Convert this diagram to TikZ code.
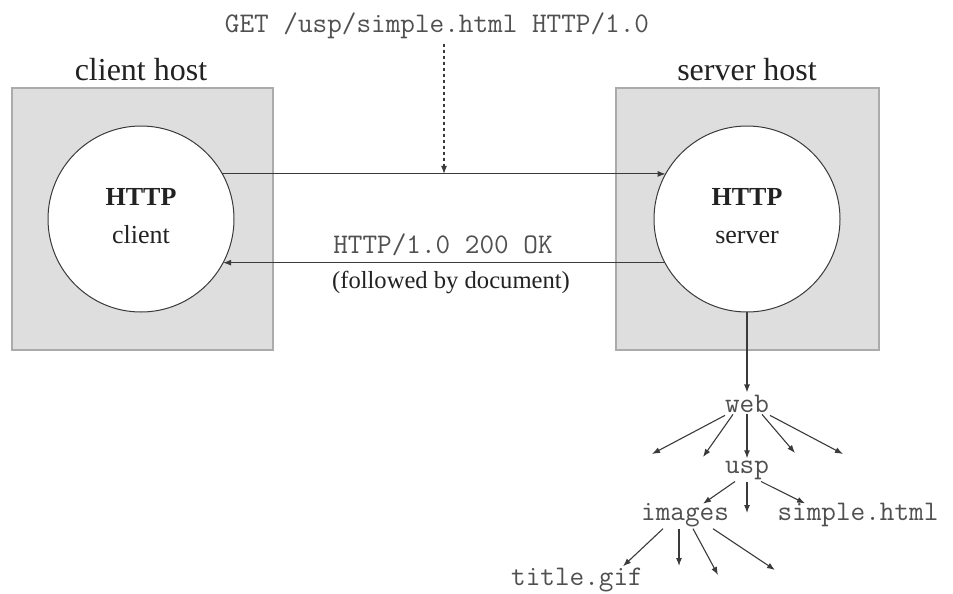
\documentclass[tikz,border=0pt]{standalone}
\usepackage{fontspec}
\setmainfont{Liberation Serif}
\usetikzlibrary{arrows.meta}
\definecolor{boxfill}{HTML}{DEDEDE}
\definecolor{boxline}{HTML}{ABABAB}
\definecolor{lineclr}{HTML}{3A3A3A}
\definecolor{monotxt}{HTML}{505050}
\definecolor{serftxt}{HTML}{222222}
\begin{document}
\begin{tikzpicture}[x=1pt,y=-1pt,
  hostbox/.style={draw=boxline,fill=boxfill,line width=1.2pt,inner sep=0,outer sep=0},
  proc/.style={circle,draw=lineclr,fill=white,line width=1pt,minimum size=186pt,inner sep=0,outer sep=0},
  hostlbl/.style={anchor=base,font=\fontsize{32}{36}\selectfont,text=serftxt,inner sep=0},
  proclbl/.style={anchor=base,font=\fontsize{26}{30}\selectfont,text=serftxt,inner sep=0},
  msg/.style={anchor=base,font=\ttfamily\fontsize{28.4}{32}\selectfont,text=monotxt,inner sep=0},
  note/.style={anchor=base,font=\fontsize{24.6}{28}\selectfont,text=serftxt,inner sep=0},
  file/.style={anchor=base,font=\ttfamily\fontsize{28.4}{32}\selectfont,text=monotxt,inner sep=2pt},
  arr/.style={draw=lineclr,line width=1.1pt,-{Latex[length=8pt,width=6pt]}},
  darr/.style={arr,dash pattern=on 3pt off 3pt}
]
\useasboundingbox (0,0) rectangle (953,594);
% host boxes
\node[hostbox,minimum width=261pt,minimum height=262pt] (cbox) at (142.5,219) {};
\node[hostbox,minimum width=263pt,minimum height=262pt] (sbox) at (747.5,219) {};
\node[hostlbl] (clbl) at (141,81) {client host};
\node[hostlbl] (slbl) at (747,81) {server host};
% processes
\node[proc] (cc) at (141,219) {};
\node[proc] (sc) at (747,219) {};
\node[proclbl] (ct1) at (141,205) {\textbf{HTTP}};
\node[proclbl] (ct2) at (141,243) {client};
\node[proclbl] (st1) at (747,205) {\textbf{HTTP}};
\node[proclbl] (st2) at (747,243) {server};
% request
\node[msg] (get) at (437,33) {GET /usp/simple.html HTTP/1.0};
\draw[arr] (cc.29) -- coordinate (mid) (sc.151);
\draw[darr] ([yshift=-4pt]get.south -| mid) -- (mid);
% response
\node[msg] (resp) at (443,253) {HTTP/1.0 200 OK};
\node[note] (fol) at (451,288) {(followed by document)};
\draw[arr] (sc.208.2) -- (cc.-28.2);
% file tree
\node[file] (web) at (747,412) {web};
\node[file] (usp) at (747,473) {usp};
\node[file] (images) at (685,520) {images};
\node[file] (simple) at (858,520) {simple.html};
\node[file] (title) at (577,585) {title.gif};
\draw[arr] (sc.south) -- (web.north);
\coordinate (w1) at (652,454);
\coordinate (w2) at (703,457);
\coordinate (w4) at (795,453);
\coordinate (w5) at (843,454);
\draw[arr] ([xshift=-22pt,yshift=-1pt]web.south) -- (w1);
\draw[arr] ([xshift=-14pt]web.south) -- (w2);
\draw[arr] (web.south) -- (usp.north);
\draw[arr] ([xshift=15pt]web.south) -- (w4);
\draw[arr] ([xshift=23pt,yshift=-1pt]web.south) -- (w5);
\coordinate (u3) at (747,513);
\draw[arr] ([xshift=-12pt]usp.south) -- ([xshift=18pt,yshift=-3pt]images.north);
\draw[arr] ([xshift=0pt]usp.south) -- (u3);
\draw[arr] ([xshift=14pt]usp.south) -- ([xshift=-53pt,yshift=-3pt]simple.north);
\coordinate (i2) at (679,566);
\coordinate (i3) at (718,575);
\coordinate (i4) at (775,570);
\draw[arr] ([xshift=-22pt]images.south) -- ([xshift=46pt,yshift=-1pt]title.north);
\draw[arr] ([xshift=-6pt]images.south) -- (i2);
\draw[arr] ([xshift=8pt]images.south) -- (i3);
\draw[arr] ([xshift=28pt]images.south) -- (i4);
\end{tikzpicture}
\end{document}
